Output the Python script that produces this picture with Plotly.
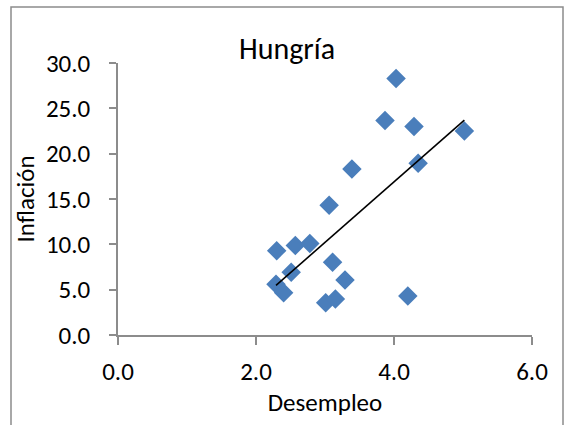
import numpy as np
import plotly.graph_objects as go

# Unemployment (x) vs. inflation (y), Hungary
desempleo = [4.03, 3.87, 4.29, 5.02, 4.35, 3.39, 3.06, 2.30, 2.57, 2.78,
             3.11, 2.51, 3.29, 2.29, 2.40, 3.01, 3.15, 4.20]
inflacion = [28.3, 23.65, 23.0, 22.5, 18.95, 18.3, 14.3, 9.3, 9.86, 10.1,
             8.03, 6.92, 6.07, 5.6, 4.67, 3.57, 3.97, 4.3]

x_ticks = [0, 2, 4, 6]
y_ticks = [0, 5, 10, 15, 20, 25, 30]

# Linear least-squares trend line over the observed range
slope, intercept = np.polyfit(desempleo, inflacion, 1)
x_fit = np.array([min(desempleo), max(desempleo)])
y_fit = slope * x_fit + intercept

FONT = "Carlito, Lato, 'Open Sans', sans-serif"
AXIS_GREY = "#8c8c8c"
W, H = 565, 425
ML, MR, MT, MB = 118, 33, 63, 90

fig = go.Figure()
fig.add_trace(go.Scatter(
    x=desempleo, y=inflacion, mode="markers",
    marker=dict(symbol="diamond", size=15, color="#4a7ebb",
                line=dict(width=0)),
    showlegend=False, hoverinfo="x+y",
))
fig.add_trace(go.Scatter(
    x=x_fit, y=y_fit, mode="lines",
    line=dict(color="black", width=1.6),
    showlegend=False, hoverinfo="skip",
))

fig.update_layout(
    width=W, height=H,
    margin=dict(l=ML, r=MR, t=MT, b=MB),
    paper_bgcolor="white", plot_bgcolor="white",
    font=dict(family=FONT, color="black", size=25),
    title=dict(text="Hungría", x=(287 / W), xanchor="center",
               y=(H - 48) / H, yanchor="middle", yref="container",
               font=dict(size=30)),
)

fig.update_xaxes(
    range=[0, 6], tickvals=x_ticks, tickformat=".1f",
    showgrid=False, zeroline=False,
    showline=True, linecolor=AXIS_GREY, linewidth=1.5,
    ticks="outside", ticklen=8, tickwidth=1.5, tickcolor=AXIS_GREY,
    ticklabelstandoff=5,
    title=dict(text="Desempleo", font=dict(size=25), standoff=8),
)
fig.update_yaxes(
    range=[0, 30], tickvals=y_ticks, tickformat=".1f",
    showgrid=False, zeroline=False,
    showline=True, linecolor=AXIS_GREY, linewidth=1.5,
    ticks="outside", ticklen=7, tickwidth=1.5, tickcolor=AXIS_GREY,
    ticklabelstandoff=14,
    title=dict(text="Inflación", font=dict(size=25), standoff=4),
)

# Chart-area frame
plot_w, plot_h = W - ML - MR, H - MT - MB
fig.add_shape(
    type="rect", xref="paper", yref="paper",
    x0=(11 - ML) / plot_w, x1=(563 - ML) / plot_w,
    y0=((H - MB) - 440) / plot_h, y1=((H - MB) - 7) / plot_h,
    line=dict(color=AXIS_GREY, width=1.5), fillcolor="rgba(0,0,0,0)",
    layer="below",
)

fig.write_html("out.html")
